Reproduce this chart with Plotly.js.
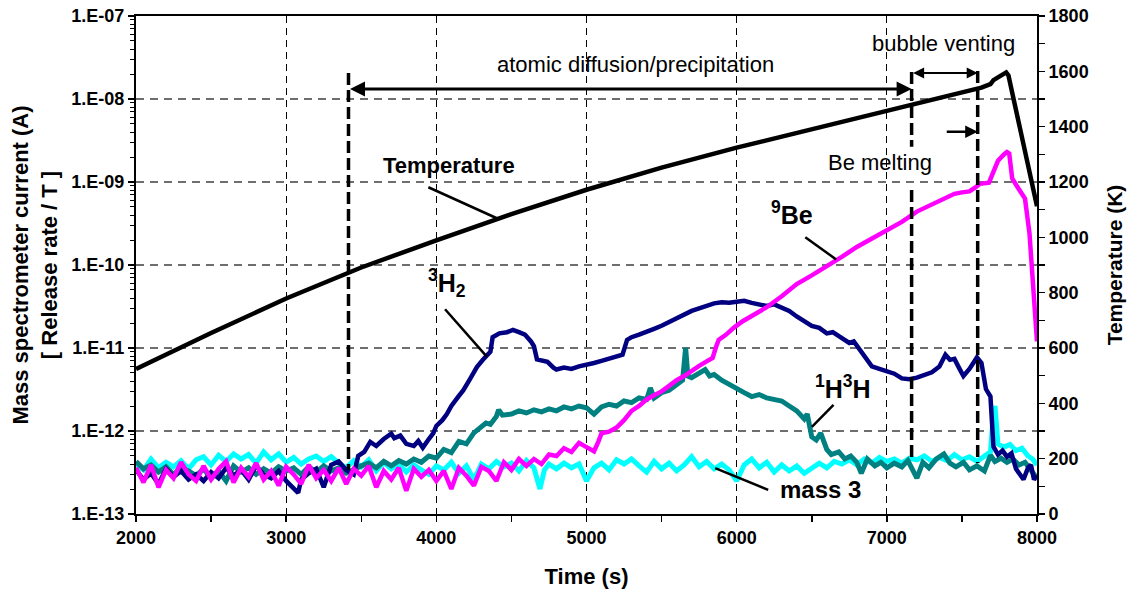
<!DOCTYPE html>
<html>
<head>
<meta charset="utf-8">
<script src="https://cdn.plot.ly/plotly-3.0.1.min.js"></script>
<style>
  html, body { margin: 0; padding: 0; background: #ffffff; }
  #chart { width: 1130px; height: 593px; }
</style>
</head>
<body>
<div id="chart"></div>
<script>
// ---- Thermal desorption run: mass-spectrometer signals (A) and sample temperature (K) ----

// mass 3 signal
const mass3Time = [
  2000,2050,2100,2150,2200,2250,2300,2350,2400,2450,
  2500,2550,2600,2650,2700,2750,2800,2850,2900,2950,
  3000,3050,3100,3150,3200,3250,3300,3350,3400,3450,
  3500,3550,3600,3650,3700,3750,3800,3850,3900,3950,
  4000,4050,4100,4150,4200,4250,4300,4350,4400,4450,
  4500,4550,4600,4650,4690,4720,4750,4800,4850,4900,
  4950,5000,5050,5100,5150,5200,5250,5300,5350,5400,
  5450,5500,5550,5600,5650,5700,5750,5800,5850,5900,
  5950,6000,6050,6100,6150,6200,6250,6300,6350,6400,
  6450,6500,6550,6600,6650,6700,6750,6800,6850,6900,
  6950,7000,7050,7100,7150,7200,7250,7300,7350,7400,
  7450,7500,7550,7600,7650,7690,7710,7720,7740,7780,
  7820,7860,7900,7940,7970,8000
];
const mass3Signal = [
  4.0e-13,3.4e-13,4.6e-13,3.6e-13,4.2e-13,3.7e-13,4.4e-13,3.5e-13,4.5e-13,4.9e-13,
  3.9e-13,5.1e-13,4.3e-13,5.3e-13,4.6e-13,5.2e-13,4.1e-13,5.6e-13,4.5e-13,5.3e-13,
  4.2e-13,4.8e-13,4.0e-13,4.6e-13,5.0e-13,4.3e-13,4.9e-13,4.1e-13,3.6e-13,4.4e-13,
  3.7e-13,4.5e-13,3.3e-13,4.2e-13,3.5e-13,4.0e-13,3.2e-13,3.9e-13,3.4e-13,3.0e-13,
  3.8e-13,3.4e-13,4.2e-13,3.1e-13,3.8e-13,2.6e-13,4.0e-13,3.5e-13,4.3e-13,3.7e-13,
  4.1e-13,3.3e-13,4.4e-13,3.6e-13,2.0e-13,3.4e-13,4.0e-13,3.5e-13,4.1e-13,3.6e-13,
  4.0e-13,2.5e-13,3.6e-13,4.1e-13,3.4e-13,4.5e-13,4.0e-13,4.6e-13,3.8e-13,3.2e-13,
  4.3e-13,3.5e-13,4.1e-13,3.3e-13,3.9e-13,4.9e-13,3.7e-13,4.3e-13,3.5e-13,4.0e-13,
  3.4e-13,2.5e-13,3.9e-13,4.6e-13,3.6e-13,4.2e-13,3.2e-13,3.9e-13,3.3e-13,3.8e-13,
  3.1e-13,3.6e-13,4.1e-13,3.6e-13,4.3e-13,4.0e-13,4.5e-13,3.9e-13,4.6e-13,4.1e-13,
  4.8e-13,4.3e-13,4.6e-13,4.1e-13,4.7e-13,4.5e-13,5.0e-13,4.3e-13,4.8e-13,4.4e-13,
  5.2e-13,4.5e-13,4.9e-13,4.3e-13,5.0e-13,5.6e-13,1.6e-12,2.0e-12,7.0e-13,6.4e-13,
  6.9e-13,5.8e-13,6.2e-13,5.0e-13,4.6e-13,3.9e-13
];

// 1H3H signal
const htTime = [
  2000,2050,2100,2150,2200,2250,2300,2350,2400,2450,
  2500,2550,2600,2650,2700,2750,2800,2850,2900,2950,
  3000,3050,3100,3150,3200,3250,3300,3350,3400,3450,
  3500,3550,3600,3650,3700,3750,3800,3850,3900,3950,
  4000,4050,4100,4150,4200,4250,4300,4330,4360,4400,
  4415,4440,4500,4550,4600,4650,4700,4750,4800,4850,
  4900,4950,5000,5050,5100,5150,5200,5250,5300,5350,
  5400,5425,5450,5500,5550,5600,5640,5660,5675,5700,
  5750,5790,5820,5850,5900,5950,6000,6050,6100,6150,
  6200,6250,6300,6350,6400,6450,6470,6500,6530,6560,
  6600,6630,6680,6720,6760,6800,6830,6870,6920,6960,
  7000,7050,7100,7140,7170,7200,7240,7280,7330,7380,
  7420,7460,7510,7550,7600,7650,7690,7720,7760,7800,
  7840,7880,7920,7960,8000
];
const htSignal = [
  4.3e-13,3.5e-13,3.9e-13,3.2e-13,3.7e-13,3.0e-13,3.6e-13,3.3e-13,2.9e-13,3.5e-13,
  2.7e-13,3.3e-13,2.5e-13,3.8e-13,3.2e-13,3.6e-13,3.0e-13,3.5e-13,3.1e-13,3.7e-13,
  3.3e-13,3.6e-13,3.0e-13,3.7e-13,3.2e-13,3.8e-13,3.3e-13,3.6e-13,3.1e-13,3.5e-13,
  3.8e-13,4.1e-13,3.6e-13,4.3e-13,3.8e-13,4.4e-13,4.0e-13,4.6e-13,4.2e-13,5.0e-13,
  4.7e-13,6.0e-13,5.5e-13,7.5e-13,7.0e-13,9.5e-13,1.1e-12,1.25e-12,1.2e-12,1.5e-12,
  1.8e-12,1.55e-12,1.6e-12,1.75e-12,1.65e-12,1.8e-12,1.7e-12,1.85e-12,1.75e-12,1.95e-12,
  1.85e-12,2.0e-12,1.9e-12,1.6e-12,1.95e-12,2.1e-12,2.0e-12,2.3e-12,2.2e-12,2.5e-12,
  2.4e-12,3.3e-12,2.5e-12,2.9e-12,3.1e-12,3.6e-12,4.1e-12,1.0e-11,4.6e-12,4.4e-12,
  5.0e-12,5.5e-12,4.6e-12,4.8e-12,4.1e-12,3.7e-12,3.3e-12,2.9e-12,2.6e-12,2.75e-12,
  2.5e-12,2.4e-12,2.3e-12,2.0e-12,1.75e-12,1.4e-12,1.6e-12,8.5e-13,7.8e-13,9.4e-13,
  6.0e-13,5.2e-13,5.6e-13,4.6e-13,5.0e-13,4.2e-13,3.1e-13,4.6e-13,3.8e-13,4.2e-13,
  3.6e-13,4.1e-13,3.7e-13,4.4e-13,3.5e-13,2.7e-13,4.2e-13,3.6e-13,4.6e-13,5.3e-13,
  4.1e-13,3.7e-13,4.2e-13,3.4e-13,3.8e-13,3.3e-13,5.1e-13,4.3e-13,4.7e-13,4.2e-13,
  4.6e-13,3.9e-13,4.2e-13,3.3e-13,2.7e-13
];

// 3H2 signal
const t2Time = [
  2000,2050,2100,2150,2200,2250,2300,2350,2400,2450,
  2500,2550,2600,2650,2700,2750,2800,2850,2900,2950,
  3000,3050,3080,3100,3150,3200,3250,3300,3350,3400,
  3450,3480,3520,3560,3600,3650,3700,3720,3760,3800,
  3850,3880,3910,3950,3980,4000,4040,4070,4100,4140,
  4180,4220,4270,4310,4340,4360,4375,4420,4470,4510,
  4550,4590,4630,4650,4670,4700,4740,4780,4800,4850,
  4900,4950,5000,5050,5100,5150,5200,5240,5270,5300,
  5350,5400,5450,5500,5550,5600,5650,5700,5750,5800,
  5850,5900,5950,6000,6050,6100,6150,6200,6250,6300,
  6350,6400,6450,6500,6550,6600,6640,6700,6750,6780,
  6820,6860,6900,6950,7000,7050,7100,7150,7200,7250,
  7300,7350,7390,7420,7450,7480,7510,7550,7600,7630,
  7660,7690,7710,7740,7770,7800,7830,7860,7890,7910,
  7940,7960,7980,8000
];
const t2Signal = [
  3.4e-13,2.6e-13,3.1e-13,2.3e-13,3.5e-13,2.8e-13,3.3e-13,2.6e-13,3.0e-13,2.5e-13,
  3.2e-13,2.7e-13,3.6e-13,2.9e-13,3.4e-13,2.6e-13,3.8e-13,3.0e-13,2.7e-13,3.3e-13,
  2.5e-13,2.0e-13,1.8e-13,2.6e-13,3.1e-13,3.5e-13,2.1e-13,3.9e-13,4.3e-13,3.4e-13,
  3.0e-13,5.0e-13,5.6e-13,7.4e-13,6.6e-13,8.0e-13,9.3e-13,8.2e-13,8.8e-13,7.0e-13,
  6.6e-13,7.6e-13,6.3e-13,8.0e-13,9.4e-13,1.15e-12,1.35e-12,1.6e-12,2.0e-12,2.5e-12,
  3.1e-12,4.1e-12,5.9e-12,7.2e-12,8.3e-12,9.0e-12,1.35e-11,1.5e-11,1.55e-11,1.65e-11,
  1.55e-11,1.45e-11,1.2e-11,1.05e-11,7.3e-12,7.0e-12,6.8e-12,5.8e-12,5.5e-12,5.8e-12,
  5.6e-12,6.0e-12,6.2e-12,6.6e-12,7.0e-12,7.4e-12,7.8e-12,8.3e-12,1.25e-11,1.35e-11,
  1.45e-11,1.55e-11,1.7e-11,1.85e-11,2.05e-11,2.3e-11,2.5e-11,2.8e-11,3.0e-11,3.25e-11,
  3.45e-11,3.55e-11,3.5e-11,3.6e-11,3.7e-11,3.5e-11,3.4e-11,3.2e-11,3.35e-11,3.05e-11,
  2.8e-11,2.4e-11,2.1e-11,1.85e-11,1.75e-11,1.5e-11,1.55e-11,1.3e-11,1.15e-11,1.2e-11,
  9.5e-12,7.2e-12,6.0e-12,5.6e-12,5.2e-12,4.9e-12,4.3e-12,4.2e-12,4.4e-12,4.7e-12,
  5.1e-12,6.0e-12,8.3e-12,7.2e-12,7.4e-12,5.8e-12,4.6e-12,5.6e-12,7.7e-12,6.6e-12,
  3.2e-12,2.6e-12,6.5e-13,5.2e-13,5.8e-13,4.9e-13,5.4e-13,3.5e-13,3.0e-13,2.6e-13,
  3.6e-13,3.9e-13,2.6e-13,2.9e-13
];

// 9Be signal
const beTime = [
  2000,2050,2100,2150,2200,2250,2300,2350,2400,2450,
  2500,2550,2600,2650,2700,2750,2800,2850,2900,2950,
  3000,3050,3100,3150,3200,3250,3300,3350,3400,3450,
  3500,3550,3600,3650,3700,3750,3800,3850,3900,3950,
  4000,4050,4100,4150,4200,4250,4300,4350,4400,4450,
  4500,4550,4600,4650,4700,4750,4800,4850,4900,4950,
  5000,5050,5080,5100,5150,5200,5250,5300,5350,5400,
  5450,5500,5550,5600,5650,5700,5750,5800,5840,5860,
  5880,5930,5980,6040,6100,6200,6300,6400,6500,6600,
  6700,6800,6900,7000,7100,7200,7300,7400,7450,7500,
  7550,7590,7620,7680,7710,7740,7780,7800,7815,7835,
  7870,7920,7950,7975,8000
];
const beSignal = [
  3.6e-13,2.4e-13,3.9e-13,2.1e-13,3.4e-13,2.7e-13,4.2e-13,3.0e-13,2.5e-13,3.8e-13,
  2.6e-13,3.5e-13,4.3e-13,2.4e-13,3.6e-13,2.8e-13,4.1e-13,2.6e-13,3.3e-13,2.2e-13,
  3.7e-13,3.0e-13,2.3e-13,3.9e-13,2.7e-13,3.4e-13,2.5e-13,3.6e-13,2.3e-13,3.5e-13,
  2.9e-13,3.8e-13,2.1e-13,3.3e-13,2.6e-13,3.6e-13,1.9e-13,3.5e-13,2.8e-13,3.4e-13,
  2.5e-13,3.3e-13,2.0e-13,3.6e-13,2.9e-13,2.2e-13,3.7e-13,3.3e-13,2.5e-13,4.2e-13,
  3.4e-13,4.6e-13,3.8e-13,4.6e-13,4.0e-13,5.2e-13,5.0e-13,6.2e-13,5.6e-13,7.2e-13,
  6.4e-13,5.7e-13,7.5e-13,9.4e-13,9.8e-13,1.1e-12,1.35e-12,1.75e-12,2.0e-12,2.4e-12,
  2.7e-12,3.0e-12,3.5e-12,4.1e-12,4.6e-12,5.4e-12,6.1e-12,6.9e-12,7.6e-12,1.0e-11,
  1.25e-11,1.45e-11,1.75e-11,2.1e-11,2.4e-11,3.1e-11,4.2e-11,5.9e-11,7.5e-11,9.6e-11,
  1.25e-10,1.65e-10,2.1e-10,2.6e-10,3.3e-10,4.4e-10,5.4e-10,6.5e-10,7.2e-10,7.5e-10,
  7.7e-10,8.6e-10,9.5e-10,9.8e-10,1.3e-9,1.8e-9,2.15e-9,2.3e-9,2.2e-9,1.1e-9,
  8.7e-10,6.3e-10,2.4e-10,5.0e-11,1.2e-11
];

// sample temperature (K)
const tempTime = [2000,2500,3000,3500,4000,4500,5000,5500,6000,6500,7000,7500,7630,7690,7710,7740,7775,7795,7810,7845,8000];
const tempK    = [524, 654, 779, 891, 989, 1084,1172,1252,1324,1390,1454,1520,1541,1554,1568,1578,1592,1596,1585,1500,1112];

// axis tick values and labels
const decadeVals   = [1e-13, 1e-12, 1e-11, 1e-10, 1e-9, 1e-8, 1e-7];
const decadeLabels = ['1.E-13','1.E-12','1.E-11','1.E-10','1.E-09','1.E-08','1.E-07'];
const timeTicks    = [2000, 3000, 4000, 5000, 6000, 7000, 8000];
const timeMinor    = [2500, 3500, 4500, 5500, 6500, 7500];
const tempTicks    = [0, 200, 400, 600, 800, 1000, 1200, 1400, 1600, 1800];
const tempMinor    = [100, 300, 500, 700, 900, 1100, 1300, 1500, 1700];

// minor log ticks 2..9 inside each decade
const logMinor = [];
for (let i = 0; i < decadeVals.length - 1; i++) {
  for (let m = 2; m <= 9; m++) logMinor.push(m * decadeVals[i]);
}

const FONT = 'Liberation Sans, Arial, Helvetica, sans-serif';

function signal(x, y, color, width) {
  return { x: x, y: y, type: 'scatter', mode: 'lines', hoverinfo: 'skip',
           line: { color: color, width: width, shape: 'linear' } };
}

const traces = [
  signal(mass3Time, mass3Signal, '#00FFFF', 5),
  signal(htTime, htSignal, '#008080', 5),
  signal(t2Time, t2Signal, '#000080', 4.5),
  signal(beTime, beSignal, '#FF00FF', 4.5),
  Object.assign(signal(tempTime, tempK, '#000000', 4.5), { yaxis: 'y2' })
];

// event markers (vertical dashed lines), in time / temperature units
const VLINE = { color: '#000000', width: 3.5, dash: '12px,5px' };
const shapes = [
  { type: 'line', xref: 'x', yref: 'y2', x0: 3415, x1: 3415, y0: 1594, y1: 159, line: VLINE },
  { type: 'line', xref: 'x', yref: 'y2', x0: 7165, x1: 7165, y0: 1598, y1: 1327, line: VLINE },
  { type: 'line', xref: 'x', yref: 'y2', x0: 7165, x1: 7165, y0: 1171, y1: 195, line: VLINE },
  { type: 'line', xref: 'x', yref: 'y2', x0: 7605, x1: 7605, y0: 1601, y1: 184, line: VLINE }
];

// leader lines from labels to curves
const LEAD = { color: '#000000', width: 2.5 };
[
  [3947, 1181, 4403, 1069],
  [6457, 1000, 6663, 920],
  [4058, 740, 4336, 569],
  [6645, 394, 6501, 315],
  [5857, 166, 6210, 87]
].forEach(function (p) {
  shapes.push({ type: 'line', xref: 'x', yref: 'y2', x0: p[0], y0: p[1], x1: p[2], y1: p[3], line: LEAD });
});

function label(text, x, y, size, bold) {
  return { xref: 'x', yref: 'y2', x: x, y: y, text: text, showarrow: false,
           font: { family: FONT, size: size, color: '#000000', weight: bold ? 'bold' : 'normal' },
           xanchor: 'center', yanchor: 'middle' };
}
function arrow(x0, x1, y, both, width) {
  return { xref: 'x', yref: 'y2', axref: 'x', ayref: 'y2', x: x1, y: y, ax: x0, ay: y,
           text: '', showarrow: true, arrowhead: 2, arrowsize: 1, arrowwidth: width,
           arrowside: both ? 'end+start' : 'end', arrowcolor: '#000000', standoff: 0, startstandoff: 0 };
}

const annotations = [
  label('atomic diffusion/precipitation', 5324, 1626, 22, false),
  label('bubble venting', 7376, 1702, 22, false),
  label('Be melting', 6956, 1269, 22, false),
  label('Temperature', 4085, 1258, 22, true),
  label('<sup>9</sup>Be', 6370, 1088, 25, true),
  label('<sup>3</sup>H<sub>2</sub>', 4072, 835, 25, true),
  label('<sup>1</sup>H<sup>3</sup>H', 6710, 459, 25, true),
  label('mass 3', 6557, 87, 24, true),
  arrow(3415, 7165, 1536, true, 3),
  arrow(7165, 7605, 1594, true, 2.2),
  arrow(7389, 7605, 1382, false, 2.5)
];

const TICKFONT = { family: FONT, size: 18, color: '#000000', weight: 'bold' };
const TITLEFONT = { family: FONT, size: 21, color: '#000000', weight: 'bold' };

const layout = {
  width: 1130, height: 593,
  margin: { l: 136, r: 93.3, t: 16, b: 79, pad: 0 },
  paper_bgcolor: '#ffffff', plot_bgcolor: '#ffffff',
  showlegend: false,
  font: { family: FONT, color: '#000000' },
  xaxis: {
    range: [2000, 8000], tickmode: 'array', tickvals: timeTicks, ticktext: timeTicks.map(String),
    ticks: 'outside', ticklen: 6, tickwidth: 1.5, tickcolor: '#000000',
    showline: true, linewidth: 2, linecolor: '#000000', mirror: true,
    showgrid: true, gridcolor: '#000000', gridwidth: 1, griddash: '7px,5px',
    zeroline: false, tickfont: TICKFONT,
    minor: { tickmode: 'array', tickvals: timeMinor, ticks: 'outside', ticklen: 6, tickwidth: 1.5, tickcolor: '#000000', showgrid: false },
    title: { text: 'Time (s)', font: { family: FONT, size: 22, color: '#000000', weight: 'bold' }, standoff: 22 }
  },
  yaxis: {
    type: 'log', range: [-13, -7], tickmode: 'array', tickvals: decadeVals, ticktext: decadeLabels,
    ticks: 'outside', ticklen: 6, tickwidth: 1.5, tickcolor: '#000000',
    showline: true, linewidth: 2, linecolor: '#000000',
    showgrid: true, gridcolor: '#6e6e6e', gridwidth: 1.3, griddash: '8px,6px',
    zeroline: false, tickfont: TICKFONT,
    minor: { tickmode: 'array', tickvals: logMinor, ticks: 'outside', ticklen: 4, tickwidth: 1, tickcolor: '#000000', showgrid: false },
    title: { text: 'Mass spectrometer current (A)<br>[ Release rate / T ]', font: { family: FONT, size: 22, color: '#000000', weight: 'bold' }, standoff: 8 }
  },
  yaxis2: {
    overlaying: 'y', side: 'right', range: [0, 1800], tickmode: 'array', tickvals: tempTicks,
    ticks: 'outside', ticklen: 6, tickwidth: 1.5, tickcolor: '#000000',
    showline: true, linewidth: 2, linecolor: '#000000',
    showgrid: false, zeroline: false, tickfont: TICKFONT,
    minor: { tickmode: 'array', tickvals: tempMinor, ticks: 'outside', ticklen: 6, tickwidth: 1.5, tickcolor: '#000000', showgrid: false },
    title: { text: 'Temperature (K)', font: TITLEFONT, standoff: 20 }
  },
  shapes: shapes,
  annotations: annotations
};

Plotly.newPlot('chart', traces, layout, { staticPlot: true, displayModeBar: false });
</script>
</body>
</html>
